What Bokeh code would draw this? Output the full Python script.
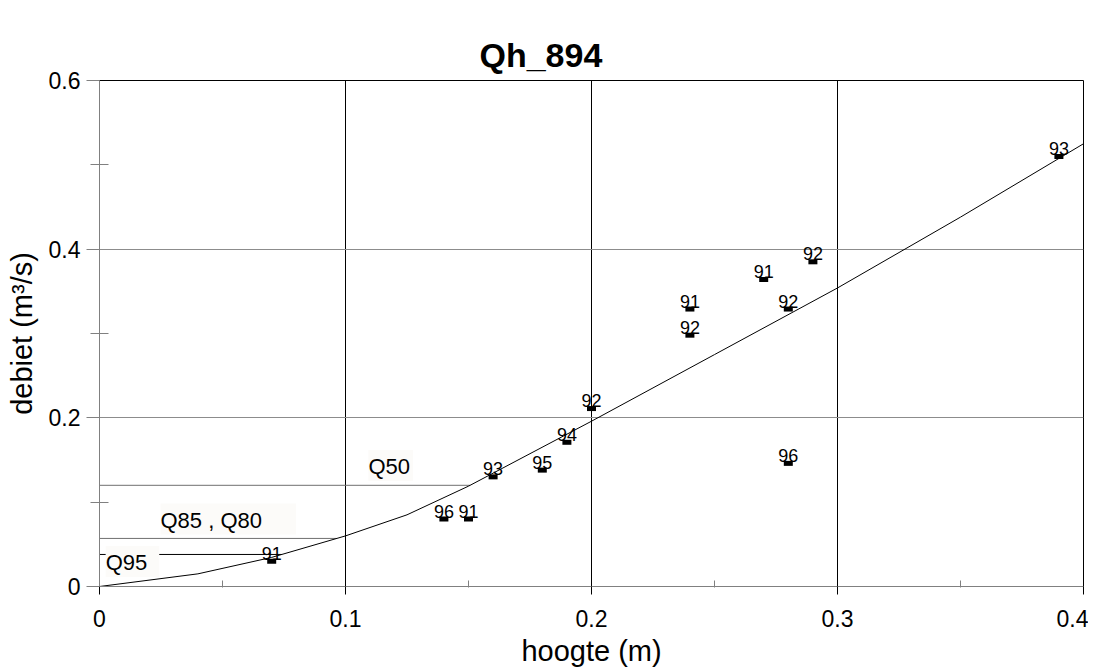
import numpy as np
from bokeh.plotting import figure
from bokeh.models import ColumnDataSource, FixedTicker, Label, Range1d
from bokeh.core.properties import value
from bokeh.embed import file_html
from bokeh.resources import INLINE

# measured points (hoogte m, debiet m3/s) with year labels
meas_h = [0.07, 0.14, 0.15, 0.16, 0.18, 0.19, 0.20, 0.24, 0.24, 0.27, 0.28, 0.29, 0.28, 0.39]
meas_q = [0.030, 0.080, 0.080, 0.130, 0.138, 0.171, 0.211, 0.329, 0.298, 0.364, 0.329, 0.385, 0.146, 0.510]
meas_yr = ["91", "96", "91", "93", "95", "94", "92", "91", "92", "91", "92", "92", "96", "93"]

# rating curve
curve_h = [0.0, 0.04, 0.07, 0.10, 0.125, 0.15, 0.20, 0.25, 0.30, 0.35, 0.40]
curve_q = [0.0, 0.015, 0.0345, 0.060, 0.085, 0.119, 0.196, 0.275, 0.354, 0.438, 0.525]

# percentile discharges
perc_names = ["Q50", "Q85 , Q80", "Q95"]
perc_q = [0.12, 0.057, 0.038]

x_ticks = [0, 0.1, 0.2, 0.3, 0.4]
x_minor = [0.05, 0.15, 0.25, 0.35]
y_ticks = [0, 0.2, 0.4, 0.6]
y_minor = [0.1, 0.3, 0.5]

TITLE = "Qh_894"
FONT = "Liberation Sans"

p = figure(width=1088, height=671, output_backend="svg", toolbar_location=None,
           x_range=Range1d(0, 0.4), y_range=Range1d(0, 0.6),
           min_border_left=99, min_border_right=5, min_border_top=80, min_border_bottom=85)

p.title.text = TITLE
p.title.align = "left"
p.title.offset = 380
p.title.text_font = FONT
p.title.text_font_size = "34px"
p.title.text_font_style = "bold"
p.title.text_color = "black"
p.title.vertical_align = "top"
p.title.standoff = 10
p.title.padding = (0, 0, 27, 0)

p.outline_line_color = "black"
p.outline_line_width = 1
p.background_fill_color = "white"
p.border_fill_color = "white"

p.xaxis.ticker = FixedTicker(ticks=x_ticks, minor_ticks=x_minor)
p.yaxis.ticker = FixedTicker(ticks=y_ticks, minor_ticks=y_minor)
p.xaxis.axis_label = "hoogte (m)"
p.yaxis.axis_label = "debiet (m³/s)"
for ax in (p.xaxis, p.yaxis):
    ax.axis_line_color = "#808080"
    ax.major_tick_line_color = "#808080"
    ax.minor_tick_line_color = "#808080"
    ax.major_label_text_font = FONT
    ax.major_label_text_font_size = "23px"
    ax.major_label_text_color = "black"
    ax.axis_label_text_font = FONT
    ax.axis_label_text_font_size = "29px"
    ax.axis_label_text_font_style = "normal"
    ax.axis_label_text_color = "black"
p.xaxis.major_tick_line_color = "black"
p.xaxis.major_tick_in = 0
p.xaxis.major_tick_out = 8
p.xaxis.minor_tick_in = 6
p.xaxis.minor_tick_out = 1
p.xaxis.major_label_standoff = 15
p.xaxis.axis_label_standoff = 5
p.yaxis.major_tick_in = 0
p.yaxis.major_tick_out = 13
p.yaxis.minor_tick_in = 9
p.yaxis.minor_tick_out = 9
p.yaxis.major_label_standoff = 6
p.yaxis.axis_label_standoff = 8

p.xgrid.ticker = FixedTicker(ticks=x_ticks)
p.ygrid.ticker = FixedTicker(ticks=y_ticks)
p.xgrid.grid_line_color = "black"
p.xgrid.grid_line_width = 1
p.ygrid.grid_line_color = "#8c8c8c"
p.ygrid.grid_line_width = 1

# percentile lines up to the curve
ends = [float(np.interp(q, curve_q, curve_h)) for q in perc_q]
line_cols = ["#707070", "#707070", "black"]
for q, e, c in zip(perc_q, ends, line_cols):
    p.line([0, e], [q, q], line_color=c, line_width=1)

# rating curve
p.line(curve_h, curve_q, line_color="black", line_width=1)

# measured points
src = ColumnDataSource(dict(h=meas_h, q=meas_q, yr=meas_yr))
p.rect(x="h", y="q", width=9, height=5, width_units="screen", height_units="screen",
       fill_color="black", line_color=None, source=src)
p.text(x="h", y="q", text="yr", source=src, text_align="center", text_baseline="alphabetic",
       y_offset=-8, text_font=value(FONT), text_font_size="18px", text_color="black")

# percentile labels (left x of text, cap-centre y, right padding)
label_pos = [(0.1093, 0.1435, 3), (0.0248, 0.080, 34), (0.0025, 0.0296, 12)]
for name, (lx, ly, padr) in zip(perc_names, label_pos):
    lab = Label(x=lx, y=ly, text=name, text_font=FONT, text_font_size="22px",
                text_baseline="middle", text_align="left", text_color="black",
                background_fill_color="#fcfbf9", padding=(0, padr, 4, 2))
    p.add_layout(lab)

open("out.html", "w").write(file_html(p, INLINE))
